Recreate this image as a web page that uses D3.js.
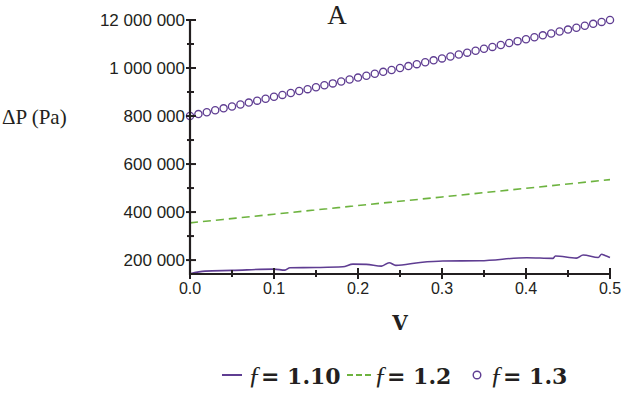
<!DOCTYPE html>
<html>
<head>
<meta charset="utf-8">
<script src="https://cdn.jsdelivr.net/npm/d3@7"></script>
<style>
  body { margin: 0; background: #fff; }
  svg { display: block; }
</style>
</head>
<body>
<div id="chart"></div>
<script>
// f = 1.10 (solid, wiggly)
const vLow = [0, 0.018, 0.05, 0.1, 0.113, 0.119, 0.15, 0.182, 0.194, 0.21, 0.228, 0.237, 0.245, 0.274, 0.301, 0.345, 0.401, 0.432, 0.435, 0.46, 0.468, 0.486, 0.49, 0.494, 0.5];
const pLow = [143000, 154000, 157000, 162500, 158000, 168000, 169000, 172000, 183000, 182000, 175000, 189000, 178000, 190000, 196000, 197000, 210000, 207000, 217000, 208000, 221000, 211000, 224000, 219000, 211000];

// f = 1.2 (dashed)
const vMid = [0, 0.1, 0.2, 0.3, 0.4, 0.5];
const pMid = [355000, 391000, 427000, 463000, 499000, 535000];

// f = 1.3 (circles)
const vHigh = [0, 0.01, 0.02, 0.03, 0.04, 0.05, 0.06, 0.07, 0.08, 0.09,
  0.1, 0.11, 0.12, 0.13, 0.14, 0.15, 0.16, 0.17, 0.18, 0.19,
  0.2, 0.21, 0.22, 0.23, 0.24, 0.25, 0.26, 0.27, 0.28, 0.29,
  0.3, 0.31, 0.32, 0.33, 0.34, 0.35, 0.36, 0.37, 0.38, 0.39,
  0.4, 0.41, 0.42, 0.43, 0.44, 0.45, 0.46, 0.47, 0.48, 0.49, 0.5];
const pHigh = [800000, 808000, 816000, 824000, 832000, 840000, 848000, 856000, 864000, 872000,
  880000, 888000, 896000, 904000, 912000, 920000, 928000, 936000, 944000, 952000,
  960000, 968000, 976000, 984000, 992000, 1000000, 1008000, 1016000, 1024000, 1032000,
  1040000, 1048000, 1056000, 1064000, 1072000, 1080000, 1088000, 1096000, 1104000, 1112000,
  1120000, 1128000, 1136000, 1144000, 1152000, 1160000, 1168000, 1176000, 1184000, 1192000, 1200000];

const xTicks = [0, 0.1, 0.2, 0.3, 0.4, 0.5];
const xMinor = [0.05, 0.15, 0.25, 0.35, 0.45];
const yTicks = [200000, 400000, 600000, 800000, 1000000, 1200000];
const yTickLabels = ['200 000', '400 000', '600 000', '800 000', '1 000 000', '12 000 000'];
const yMinor = [300000, 500000, 700000, 900000, 1100000];

const legendLabels = ['1.10', '1.2', '1.3'];

const width = 623, height = 393;
const purple = '#5f3d92';
const green = '#6db33f';
const ink = '#231f20';
const sans = '"Liberation Sans", Arial, sans-serif';
const serif = '"Liberation Serif", "Times New Roman", serif';
const wideSerif = '"DejaVu Serif", serif';

const svg = d3.select('#chart').append('svg')
  .attr('width', width)
  .attr('height', height);

const x = d3.scaleLinear().domain([0, 0.5]).range([190, 610]);
const y = d3.scaleLinear().domain([142000, 1200000]).range([274, 20]);

// 曲线
const line = d3.line().x(d => x(d[0])).y(d => y(d[1])).curve(d3.curveMonotoneX);

svg.append('path')
  .datum(vLow.map((v, i) => [v, pLow[i]]))
  .attr('d', line)
  .attr('fill', 'none')
  .attr('stroke', purple)
  .attr('stroke-width', 1.6);

svg.append('path')
  .datum(vMid.map((v, i) => [v, pMid[i]]))
  .attr('d', line)
  .attr('fill', 'none')
  .attr('stroke', green)
  .attr('stroke-width', 1.6)
  .attr('stroke-dasharray', '8,5');

svg.append('g').selectAll('circle')
  .data(vHigh.map((v, i) => [v, pHigh[i]]))
  .join('circle')
  .attr('cx', d => x(d[0]))
  .attr('cy', d => y(d[1]))
  .attr('r', 3.6)
  .attr('fill', 'none')
  .attr('stroke', purple)
  .attr('stroke-width', 1.3);

// 坐标轴
const xAxis = svg.append('g').attr('transform', `translate(0,${y.range()[0]})`);
xAxis.append('line')
  .attr('x1', x(0)).attr('x2', x(0.5))
  .attr('stroke', ink).attr('stroke-width', 2.2);
xAxis.selectAll('.maj').data(xTicks).join('line')
  .attr('x1', d => x(d)).attr('x2', d => x(d))
  .attr('y1', -6).attr('y2', 5)
  .attr('stroke', ink).attr('stroke-width', 2);
xAxis.selectAll('.min').data(xMinor).join('line')
  .attr('x1', d => x(d)).attr('x2', d => x(d))
  .attr('y1', -4).attr('y2', 3)
  .attr('stroke', ink).attr('stroke-width', 2);
xAxis.selectAll('text').data(xTicks).join('text')
  .attr('x', d => x(d))
  .attr('y', 20)
  .attr('text-anchor', 'middle')
  .attr('font-family', sans)
  .attr('font-size', 16)
  .attr('fill', ink)
  .text(d => d.toFixed(1));

const yAxis = svg.append('g').attr('transform', `translate(${x(0)},0)`);
yAxis.append('line')
  .attr('y1', y.range()[0] + 1).attr('y2', y(1200000))
  .attr('stroke', ink).attr('stroke-width', 2.2);
yAxis.selectAll('.maj').data(yTicks).join('line')
  .attr('y1', d => y(d)).attr('y2', d => y(d))
  .attr('x1', -4).attr('x2', 6)
  .attr('stroke', ink).attr('stroke-width', 2);
yAxis.selectAll('.min').data(yMinor).join('line')
  .attr('y1', d => y(d)).attr('y2', d => y(d))
  .attr('x1', -3).attr('x2', 4)
  .attr('stroke', ink).attr('stroke-width', 2);
yAxis.selectAll('text').data(yTicks).join('text')
  .attr('x', -5)
  .attr('y', d => y(d) + 6)
  .attr('text-anchor', 'end')
  .attr('font-family', sans)
  .attr('font-size', 17)
  .attr('fill', ink)
  .text((d, i) => yTickLabels[i]);

// 标题和轴标签
svg.append('text')
  .attr('x', 337).attr('y', 24)
  .attr('text-anchor', 'middle')
  .attr('font-family', serif)
  .attr('font-size', 27)
  .attr('fill', ink)
  .text('A');

svg.append('text')
  .attr('x', 2).attr('y', 124)
  .attr('font-family', serif)
  .attr('font-size', 21)
  .attr('fill', ink)
  .text('ΔP (Pa)');

svg.append('text')
  .attr('x', 400).attr('y', 330)
  .attr('text-anchor', 'middle')
  .attr('font-family', wideSerif)
  .attr('font-weight', 'bold')
  .attr('font-size', 20)
  .attr('fill', ink)
  .text('V');

// 图例
const legend = svg.append('g').attr('transform', 'translate(0,375)');
const legendX = [222, 347, 470];
const textX = [248, 374, 490];

legend.append('line')
  .attr('x1', legendX[0]).attr('x2', legendX[0] + 20)
  .attr('stroke', purple).attr('stroke-width', 2);
legend.append('line')
  .attr('x1', legendX[1]).attr('x2', legendX[1] + 25)
  .attr('stroke', green).attr('stroke-width', 2)
  .attr('stroke-dasharray', '6,3');
legend.append('circle')
  .attr('cx', legendX[2] + 7).attr('cy', 0).attr('r', 3.8)
  .attr('fill', 'none').attr('stroke', purple).attr('stroke-width', 1.4);

legendLabels.forEach((lab, i) => {
  const t = legend.append('text')
    .attr('x', textX[i])
    .attr('y', 9)
    .attr('font-size', 22)
    .attr('fill', ink);
  t.append('tspan')
    .attr('font-family', serif)
    .attr('font-style', 'italic')
    .attr('font-size', 26)
    .text('ƒ');
  t.append('tspan')
    .attr('font-family', wideSerif)
    .attr('font-weight', 'bold')
    .text('= ' + lab);
});
</script>
</body>
</html>
